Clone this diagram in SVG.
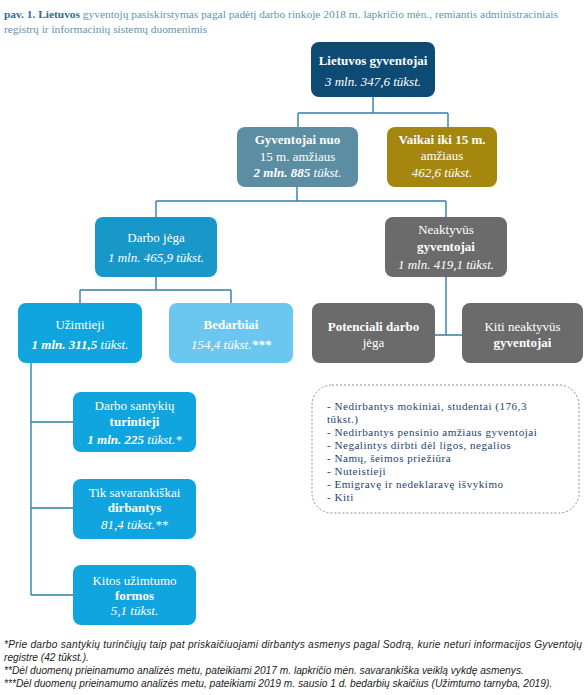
<svg xmlns="http://www.w3.org/2000/svg" width="588" height="695" viewBox="0 0 588 695">
<style>
text{font-family:"Liberation Serif","DejaVu Serif",serif;}
.t{font-size:13px;fill:#ffffff;text-anchor:middle;}
.b{font-weight:bold;}
.i{font-style:italic;}
.ttl{font-size:11.4px;fill:#5f95ad;}
.ttlb{fill:#2f6f8f;font-weight:bold;}
.lst{font-size:11.1px;letter-spacing:0.5px;fill:#1d3f6e;}
.fn{font-family:"Liberation Sans","DejaVu Sans",sans-serif;font-size:10.2px;font-style:italic;fill:#222;}
.c{fill:none;stroke:#2f80aa;stroke-width:1.4;}
</style>
<rect width="588" height="695" fill="#ffffff"/>
<g id="title">
<text class="ttl" x="4" y="18"><tspan class="ttlb">pav. 1. Lietuvos</tspan> gyventojų pasiskirstymas pagal padėtį darbo rinkoje 2018 m. lapkričio mėn., remiantis administraciniais</text>
<text class="ttl" x="4" y="33">registrų ir informacinių sistemų duomenimis</text>
</g>
<g id="connectors">
<path class="c" d="M373,97 V113 M298,113 H448 M298,113 V127 M448,113 V127"/>
<path class="c" d="M297,187 V201 M156,201 H446 M156,201 V217 M446,201 V217"/>
<path class="c" d="M156,277 V290 M80,290 H231 M80,290 V303 M231,290 V303"/>
<path class="c" d="M446,277 V335 M435,335 H462"/>
<path class="c" d="M31,363 V595 M31,422 H73 M31,508 H73 M31,595 H73"/>
</g>
<g id="n_lietuvos">
<rect x="311" y="42" width="124" height="55" rx="8" fill="#0d4b75"/>
<text class="t b" x="373" y="65">Lietuvos gyventojai</text>
<text class="t i" x="373" y="86">3 mln. 347,6 tūkst.</text>
</g>
<g id="n_nuo15">
<rect x="237" y="127" width="121" height="60" rx="8" fill="#5b8ea3"/>
<text class="t b" x="297.5" y="144">Gyventojai nuo</text>
<text class="t" x="297.5" y="161">15 m. amžiaus</text>
<text class="t i" x="297.5" y="177"><tspan class="b">2 mln. 885</tspan> tūkst.</text>
</g>
<g id="n_vaikai">
<rect x="387" y="127" width="110" height="60" rx="8" fill="#a5870f"/>
<text class="t b" x="442" y="144">Vaikai iki 15 m.</text>
<text class="t" x="442" y="159.5">amžiaus</text>
<text class="t i" x="442" y="177">462,6 tūkst.</text>
</g>
<g id="n_darbojega">
<rect x="95" y="217" width="122" height="60" rx="8" fill="#1898c9"/>
<text class="t" x="156" y="242">Darbo jėga</text>
<text class="t i" x="156" y="262">1 mln. 465,9 tūkst.</text>
</g>
<g id="n_neaktyvus">
<rect x="385" y="217" width="122" height="60" rx="8" fill="#6b6b6b"/>
<text class="t" x="446" y="234">Neaktyvūs</text>
<text class="t b" x="446" y="251">gyventojai</text>
<text class="t i" x="446" y="269">1 mln. 419,1 tūkst.</text>
</g>
<g id="n_uzimtieji">
<rect x="18" y="303" width="124" height="60" rx="8" fill="#10a5de"/>
<text class="t" x="80" y="329">Užimtieji</text>
<text class="t i" x="80" y="349"><tspan class="b">1 mln. 311,5</tspan> tūkst.</text>
</g>
<g id="n_bedarbiai">
<rect x="169" y="303" width="124" height="60" rx="8" fill="#6bc7f0"/>
<text class="t b" x="231" y="329">Bedarbiai</text>
<text class="t i" x="231" y="349">154,4 tūkst.<tspan class="b">***</tspan></text>
</g>
<g id="n_potenciali">
<rect x="312" y="303" width="123" height="60" rx="8" fill="#6b6b6b"/>
<text class="t b" x="373.5" y="331">Potenciali darbo</text>
<text class="t" x="373.5" y="346.5">jėga</text>
</g>
<g id="n_kiti">
<rect x="462" y="303" width="121" height="60" rx="8" fill="#6b6b6b"/>
<text class="t" x="522.5" y="331">Kiti neaktyvūs</text>
<text class="t b" x="522.5" y="346.5">gyventojai</text>
</g>
<g id="n_list">
<rect x="312" y="385" width="267" height="128" rx="20" fill="none" stroke="#8a8a8a" stroke-width="1" stroke-dasharray="2,2"/>
<text class="lst" x="327" y="410">- Nedirbantys mokiniai, studentai (176,3</text>
<text class="lst" x="327" y="423">tūkst.)</text>
<text class="lst" x="327" y="436">- Nedirbantys pensinio amžiaus gyventojai</text>
<text class="lst" x="327" y="449">- Negalintys dirbti dėl ligos, negalios</text>
<text class="lst" x="327" y="462">- Namų, šeimos priežiūra</text>
<text class="lst" x="327" y="475">- Nuteistieji</text>
<text class="lst" x="327" y="488">- Emigravę ir nedeklaravę išvykimo</text>
<text class="lst" x="327" y="501">- Kiti</text>
</g>
<g id="n_santykiu">
<rect x="73" y="392" width="123" height="60" rx="8" fill="#10a5de"/>
<text class="t" x="134.5" y="410">Darbo santykių</text>
<text class="t b" x="134.5" y="426">turintieji</text>
<text class="t i" x="134.5" y="444"><tspan class="b">1 mln. 225</tspan> tūkst.*</text>
</g>
<g id="n_savarankiskai">
<rect x="73" y="479" width="123" height="60" rx="8" fill="#10a5de"/>
<text class="t" x="134.5" y="497">Tik savarankiškai</text>
<text class="t b" x="134.5" y="512">dirbantys</text>
<text class="t i" x="134.5" y="529">81,4 tūkst.**</text>
</g>
<g id="n_kitos">
<rect x="73" y="565" width="123" height="60" rx="8" fill="#10a5de"/>
<text class="t" x="134.5" y="584.5">Kitos užimtumo</text>
<text class="t b" x="134.5" y="600">formos</text>
<text class="t i" x="134.5" y="615">5,1 tūkst.</text>
</g>
<g id="footnotes">
<text class="fn" x="4" y="648" textLength="578" lengthAdjust="spacing">*Prie darbo santykių turinčiųjų taip pat priskaičiuojami dirbantys asmenys pagal Sodrą, kurie neturi informacijos Gyventojų</text>
<text class="fn" x="4" y="661">registre (42 tūkst.).</text>
<text class="fn" x="4" y="674">**Dėl duomenų prieinamumo analizės metu, pateikiami 2017 m. lapkričio mėn. savarankiška veiklą vykdę asmenys.</text>
<text class="fn" x="4" y="687">***Dėl duomenų prieinamumo analizės metu, pateikiami 2019 m. sausio 1 d. bedarbių skaičius (Užimtumo tarnyba, 2019).</text>
</g>
</svg>
